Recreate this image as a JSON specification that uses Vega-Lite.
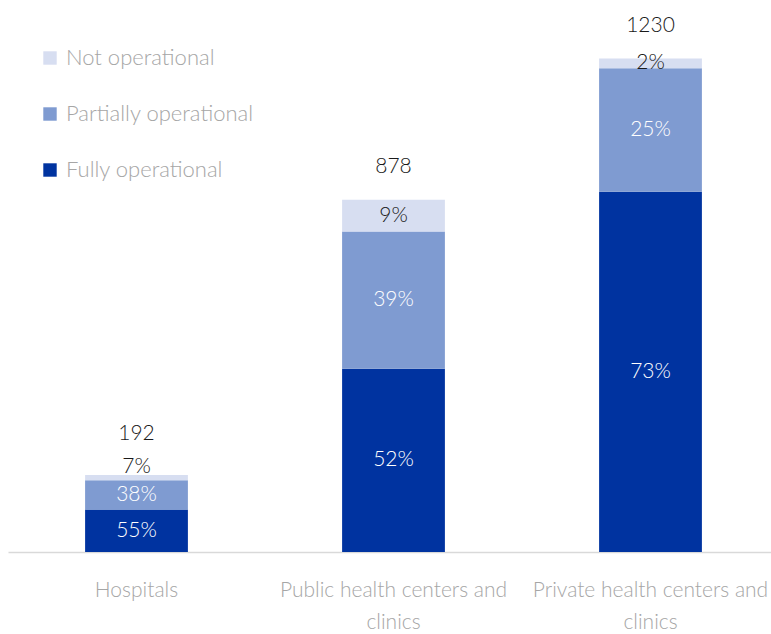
{
  "$schema": "https://vega.github.io/schema/vega-lite/v6.json",
  "width": 771,
  "height": 552,
  "autosize": {"type": "none"},
  "padding": {"left": 8, "top": 0, "right": 0, "bottom": 82},
  "background": "white",
  "config": {"view": {"stroke": null}, "font": "Lato"},
  "datasets": {
    "main": [
      {"category": "Hospitals", "status": "Fully operational", "rank": 1, "count": 106, "pct": "55%"},
      {"category": "Hospitals", "status": "Partially operational", "rank": 2, "count": 73, "pct": "38%"},
      {"category": "Hospitals", "status": "Not operational", "rank": 3, "count": 13, "pct": "7%"},
      {"category": "Public health centers and clinics", "status": "Fully operational", "rank": 1, "count": 457, "pct": "52%"},
      {"category": "Public health centers and clinics", "status": "Partially operational", "rank": 2, "count": 342, "pct": "39%"},
      {"category": "Public health centers and clinics", "status": "Not operational", "rank": 3, "count": 79, "pct": "9%"},
      {"category": "Private health centers and clinics", "status": "Fully operational", "rank": 1, "count": 898, "pct": "73%"},
      {"category": "Private health centers and clinics", "status": "Partially operational", "rank": 2, "count": 308, "pct": "25%"},
      {"category": "Private health centers and clinics", "status": "Not operational", "rank": 3, "count": 24, "pct": "2%"}
    ],
    "totals": [
      {"category": "Hospitals", "total": 192},
      {"category": "Public health centers and clinics", "total": 878},
      {"category": "Private health centers and clinics", "total": 1230}
    ]
  },
  "encoding": {
    "x": {
      "field": "category",
      "type": "nominal",
      "sort": ["Hospitals", "Public health centers and clinics", "Private health centers and clinics"],
      "scale": {"paddingInner": 0.6, "paddingOuter": 0.3},
      "axis": {
        "title": null,
        "labelAngle": 0,
        "ticks": false,
        "domainColor": "#d9d9d9",
        "domainWidth": 1.5,
        "labelColor": "#a6a6a6",
        "labelFont": "Lato",
        "labelFontWeight": 300,
        "labelFontSize": 21,
        "labelPadding": 27,
        "labelLineHeight": 32,
        "labelBaseline": "top",
        "labelLimit": 300,
        "labelExpr": "datum.label == 'Hospitals' ? datum.label : split(replace(datum.label, ' and ', ' and|'), '|')"
      }
    }
  },
  "layer": [
    {
      "data": {"name": "main"},
      "mark": {"type": "bar"},
      "encoding": {
        "y": {"field": "count", "type": "quantitative", "stack": "zero", "scale": {"domain": [0, 1376]}, "axis": null},
        "order": {"field": "rank", "type": "quantitative"},
        "color": {
          "field": "status",
          "type": "nominal",
          "scale": {
            "domain": ["Not operational", "Partially operational", "Fully operational"],
            "range": ["#d7def1", "#7f9bd1", "#0033a0"]
          },
          "legend": {
            "title": null,
            "orient": "none",
            "legendX": 31,
            "legendY": 47,
            "symbolType": "square",
            "symbolSize": 180,
            "symbolStrokeWidth": 0,
            "labelFont": "Lato",
            "labelFontWeight": 300,
            "labelFontSize": 22,
            "labelColor": "#a6a6a6",
            "labelOffset": 5,
            "labelLimit": 400,
            "rowPadding": 34
          }
        }
      }
    },
    {
      "data": {"name": "main"},
      "transform": [
        {"stack": "count", "groupby": ["category"], "sort": [{"field": "rank"}], "as": ["y0", "y1"]},
        {"filter": "!(datum.category == 'Hospitals' && datum.status == 'Not operational')"},
        {"fold": ["y0", "y1"], "as": ["edge", "edgeValue"]},
        {"aggregate": [{"op": "mean", "field": "edgeValue", "as": "mid"}], "groupby": ["category", "status", "pct"]}
      ],
      "mark": {"type": "text", "baseline": "middle", "fontSize": 21, "font": "Lato", "fontWeight": 300},
      "encoding": {
        "y": {"field": "mid", "type": "quantitative", "scale": {"domain": [0, 1376]}, "axis": null},
        "text": {"field": "pct"},
        "color": {
          "condition": {"test": "datum.status == 'Not operational'", "value": "#1a1a1a"},
          "value": "#ffffff"
        }
      }
    },
    {
      "data": {"name": "main"},
      "transform": [
        {"stack": "count", "groupby": ["category"], "sort": [{"field": "rank"}], "as": ["y0", "y1"]},
        {"filter": "datum.category == 'Hospitals' && datum.status == 'Not operational'"}
      ],
      "mark": {"type": "text", "baseline": "alphabetic", "dy": -2, "fontSize": 21, "font": "Lato", "fontWeight": 300, "color": "#1a1a1a"},
      "encoding": {
        "y": {"field": "y1", "type": "quantitative", "scale": {"domain": [0, 1376]}, "axis": null},
        "text": {"field": "pct"}
      }
    },
    {
      "data": {"name": "totals"},
      "transform": [{"filter": "datum.category == 'Hospitals'"}],
      "mark": {"type": "text", "baseline": "alphabetic", "dy": -35, "fontSize": 21, "font": "Lato", "fontWeight": 300, "color": "#1a1a1a"},
      "encoding": {
        "y": {"field": "total", "type": "quantitative", "scale": {"domain": [0, 1376]}, "axis": null},
        "text": {"field": "total"}
      }
    },
    {
      "data": {"name": "totals"},
      "transform": [{"filter": "datum.category != 'Hospitals'"}],
      "mark": {"type": "text", "baseline": "alphabetic", "dy": -27, "fontSize": 21, "font": "Lato", "fontWeight": 300, "color": "#1a1a1a"},
      "encoding": {
        "y": {"field": "total", "type": "quantitative", "scale": {"domain": [0, 1376]}, "axis": null},
        "text": {"field": "total"}
      }
    }
  ]
}
